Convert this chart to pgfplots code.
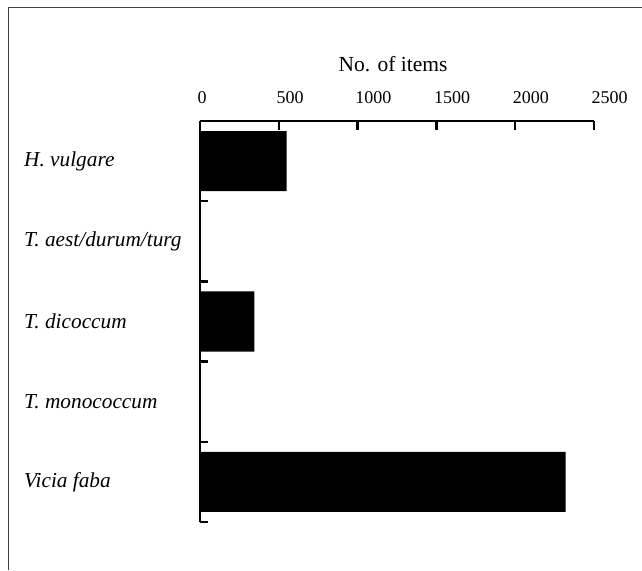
\documentclass[border=0pt]{standalone}
\usepackage{pgfplots}
\pgfplotsset{compat=1.18}
\usepackage{fontspec}
\setmainfont{Liberation Serif}
\begin{document}
\begin{tikzpicture}
\useasboundingbox (0pt,0pt) rectangle (642pt,-570pt);
\draw[line width=1.4pt, black!75] (8.5pt,-570pt) -- (8.5pt,-7.5pt) -- (642pt,-7.5pt);
\begin{axis}[
  at={(200pt,-522pt)}, anchor=south west,
  scale only axis, width=394pt, height=401pt,
  xmin=0, xmax=2500, ymin=0.5, ymax=5.5,
  axis x line*=top, axis y line*=left,
  axis line style={line width=2.5pt, black},
  tick align=inside, xtick align=inside, ytick align=inside,
  xtick={0,500,1000,1500,2000,2500},
  major tick length=9pt,
  every tick/.style={line width=2.5pt, black},
  /pgf/number format/assume math mode=true,
  /pgf/number format/set thousands separator={},
  xticklabel style={font=\fontsize{18}{21}\selectfont, anchor=south west, inner sep=0pt, xshift=-2.5pt, yshift=17pt},
  xlabel={No. of items},
  xlabel style={font=\fontsize{21.5}{25}\selectfont, at={(axis description cs:0.49,1)}, anchor=base, yshift=50pt},
  ytick={1,2,3,4,5},
  yticklabels={Vicia faba, T. monococcum, T. dicoccum, T. aest/durum/turg, H. vulgare},
  major y tick style={draw=none},
  minor ytick={0.5,1.5,2.5,3.5,4.5},
  minor tick length=8pt,
  minor y tick style={line width=2.5pt, black, xshift=8pt},
  yticklabel style={font=\fontsize{21.3}{25}\selectfont\itshape, anchor=west, inner sep=0pt, xshift=-167pt},
  xbar, bar width=0.75,
]
\addplot[fill=black, draw=none] coordinates {
  (2320,1) (3,2) (345,3) (5,4) (550,5)
};
\end{axis}
\end{tikzpicture}
\end{document}
